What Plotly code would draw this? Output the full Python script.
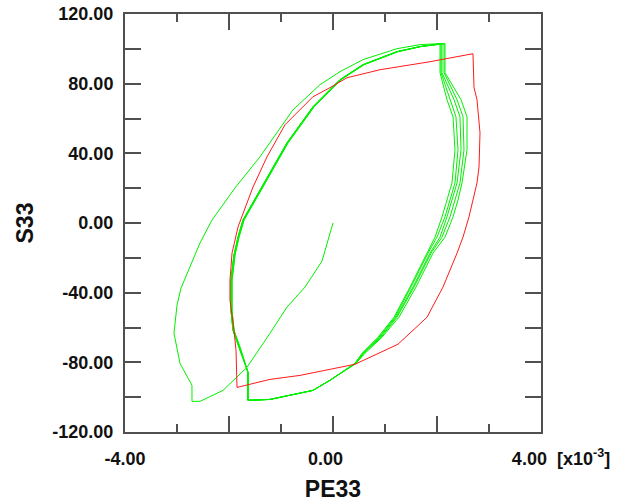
import plotly.graph_objects as go

# ---- data (PE33 in units of 1e-3, S33) ----
red_x = [2.692, 2.712, 2.769, 2.827, 2.808, 2.769, 2.692, 2.615, 2.5, 2.385, 2.115, 1.808, 1.25,
         0.423, -0.635, -1.212, -1.846, -1.865, -1.904, -1.981, -1.981, -1.942, -1.827, -1.538,
         -1.269, -0.923, -0.385, -0.058, 0.269, 0.904, 1.865, 2.692]
red_y = [97.2, 77.7, 70.8, 51.8, 32.2, 23.0, 13.2, 3.5, -8.1, -17.3, -36.8, -54.1, -69.6,
         -81.1, -87.5, -89.8, -94.4, -73.1, -61.6, -44.3, -32.8, -17.3, -2.3, 20.7,
         38.0, 56.4, 72.5, 77.7, 83.4, 88.0, 92.6, 97.2]

# first loading path (green)
init_x = [0.0, -0.212, -0.538, -0.885, -1.212, -1.654, -2.115, -2.558, -2.712, -2.712, -2.942,
          -3.058, -3.0, -2.923, -2.558, -2.327, -1.885, -1.404, -0.769, -0.25, 0.135, 0.577,
          1.231, 1.673]
init_y = [0.0, -21.9, -36.8, -48.3, -63.3, -82.9, -96.1, -102.4, -102.4, -93.2, -80.6,
          -63.3, -47.2, -37.4, -11.5, 1.7, 20.1, 38.0, 65.0, 79.4, 86.9, 93.8,
          100.1, 102.4]

# descending (right) branch of each green cycle
right_y = [103.0, 86.3, 70.8, 61.0, 42.0, 23.0, 13.2, 3.5, -8.1, -17.3, -36.8, -54.1, -65.6,
           -74.8, -80.6, -90.3, -96.1, -101.3, -101.8]
right_x_c1 = [2.058, 2.058, 2.192, 2.308, 2.346, 2.288, 2.192, 2.096, 1.962, 1.808, 1.481, 1.173,
              0.865, 0.558, 0.423, -0.058, -0.385, -1.212, -1.635]
right_x_c2 = [2.077, 2.077, 2.250, 2.365, 2.404, 2.346, 2.250, 2.154, 2.000, 1.827, 1.500, 1.192,
              0.885, 0.577, 0.423, -0.058, -0.385, -1.212, -1.635]
right_x_c3 = [2.096, 2.096, 2.327, 2.442, 2.462, 2.385, 2.288, 2.192, 2.058, 1.865, 1.538, 1.212,
              0.904, 0.577, 0.423, -0.058, -0.385, -1.212, -1.635]
right_x_c4 = [2.135, 2.135, 2.385, 2.500, 2.519, 2.442, 2.346, 2.250, 2.096, 1.885, 1.558, 1.231,
              0.923, 0.596, 0.442, -0.058, -0.385, -1.212, -1.635]
right_x_c5 = [2.154, 2.154, 2.462, 2.577, 2.577, 2.481, 2.404, 2.308, 2.154, 1.923, 1.596, 1.269,
              0.942, 0.615, 0.442, -0.058, -0.385, -1.212, -1.635]

# ascending (left) branch of the green cycles
left_y = [-85.7, -73.1, -61.6, -50.1, -32.8, -18.4, -8.1, 1.7, 19.0, 46.0, 66.7, 82.3, 90.9,
          98.4, 101.3]
left_x_a = [-1.635, -1.788, -1.923, -1.962, -1.962, -1.904, -1.827, -1.731, -1.404, -0.885,
            -0.385, 0.135, 0.577, 1.231, 1.673]
left_x_b = [-1.635, -1.769, -1.904, -1.942, -1.942, -1.885, -1.808, -1.712, -1.385, -0.865,
            -0.365, 0.154, 0.596, 1.25, 1.692]

NB = "\u00a0"
x_tickvals = [-4, 0, 4]
x_ticktext = ["-4.00", "0.00" + NB * 3, NB * 8 + "4.00" + NB * 2 + "[x10<sup>-3</sup>]"]
x_long_unlabeled = [-2, 2]
x_minor = [-3, -1, 1, 3]
y_tickvals = [-120, -80, -40, 0, 40, 80, 120]
y_ticktext = ["-120.00", "-80.00", "-40.00", "0.00", "40.00", "80.00", "120.00"]
y_minor = [-100, -60, -20, 20, 60, 100]

# ---- assemble green path ----
green_x = list(init_x)
green_y = list(init_y)
cycles = [(right_x_c1, left_x_a), (right_x_c2, left_x_b), (right_x_c3, left_x_a),
          (right_x_c4, left_x_b), (right_x_c5, left_x_a)]
for rx, lx in cycles:
    green_x += rx + lx
    green_y += right_y + left_y
green_x.append(right_x_c5[0])
green_y.append(right_y[0])

AX = "#505050"
FONT = "Liberation Sans, Arial"
TICKFONT = dict(family=FONT, size=18, color="#111111", weight="bold")

fig = go.Figure()
fig.add_trace(go.Scatter(x=green_x, y=green_y, mode="lines",
                         line=dict(color="#00f000", width=1), showlegend=False))
fig.add_trace(go.Scatter(x=red_x, y=red_y, mode="lines", xaxis="x2",
                         line=dict(color="#ff1a1a", width=1), showlegend=False))

fig.update_layout(
    width=637, height=503, margin=dict(l=125, r=96, t=14, b=71),
    plot_bgcolor="white", paper_bgcolor="white",
    xaxis=dict(range=[-4, 4], tickmode="array", tickvals=x_tickvals, ticktext=x_ticktext,
               showgrid=False, zeroline=False, showline=True, linecolor=AX, linewidth=2,
               mirror="allticks", ticks="inside", tickcolor=AX, tickwidth=1.5, ticklen=16,
               minor=dict(tickmode="array", tickvals=x_minor, ticks="inside", ticklen=8,
                          tickcolor=AX, tickwidth=1.5),
               tickfont=TICKFONT, ticklabeloverflow="allow",
               ticklabelstandoff=9, automargin=False,
               title=dict(text="PE33", standoff=13,
                          font=dict(family=FONT, size=23, color="#111111", weight="bold"))),
    xaxis2=dict(range=[-4, 4], overlaying="x", anchor="y", side="bottom",
                tickmode="array", tickvals=x_long_unlabeled, showticklabels=False,
                showgrid=False, zeroline=False, showline=False, mirror="allticks",
                ticks="inside", tickcolor=AX, tickwidth=1.5, ticklen=16, automargin=False),
    yaxis=dict(range=[-120, 120], tickmode="array", tickvals=y_tickvals, ticktext=y_ticktext,
               showgrid=False, zeroline=False, showline=True, linecolor=AX, linewidth=2,
               mirror="allticks", ticks="inside", tickcolor=AX, tickwidth=1.5, ticklen=16,
               minor=dict(tickmode="array", tickvals=y_minor, ticks="inside", ticklen=9,
                          tickcolor=AX, tickwidth=1.5),
               tickfont=TICKFONT, ticklabeloverflow="allow",
               ticklabelstandoff=6, automargin=False,
               title=dict(text="S33", standoff=12,
                          font=dict(family=FONT, size=23, color="#111111", weight="bold"))),
)

fig.write_html("out.html", config={"displayModeBar": False},
               post_script="document.body.style.margin='0';document.body.style.overflow='hidden';")
